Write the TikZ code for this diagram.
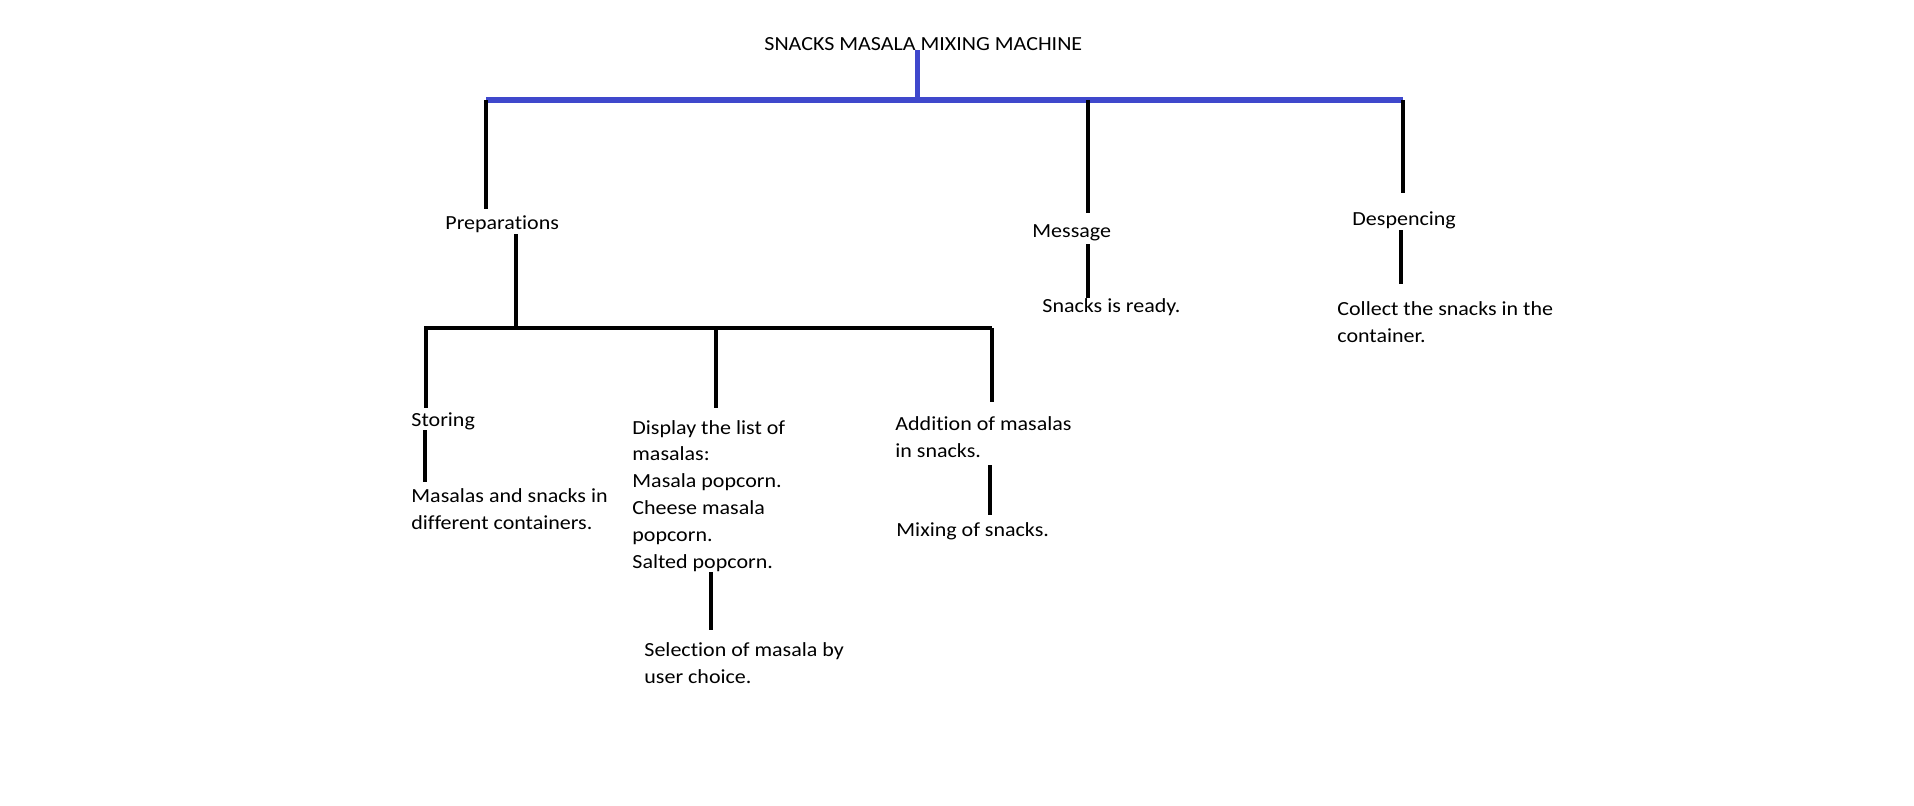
\documentclass[tikz,border=0pt]{standalone}
\usepackage{fontspec}
\setmainfont[FakeStretch=1.1, Ligatures=NoCommon]{Carlito}
\usepackage{tikz}
\usetikzlibrary{positioning}

\definecolor{paintblue}{RGB}{63,72,204}
\newcommand{\txtfont}{\fontsize{10}{13.4}\selectfont}

\begin{document}
\begin{tikzpicture}[
    x=0.5pt, y=-0.5pt,
    % Styles (multi-line texts sit on the baseline of their last line)
    txt/.style={anchor=base west, inner sep=0pt, font=\txtfont, align=left},
    wire/.style={draw=black, line width=2.2pt},
    bluewire/.style={draw=paintblue, line width=2.6pt}
]
\useasboundingbox (0,0) rectangle (1914,805);

% === TITLE ===
\node (title) [txt] at (764,50) {SNACKS MASALA MIXING MACHINE};

% === LEVEL 1 ===
\node (prep) [txt] at (445,229) {Preparations};
\node (msg) [txt] at (1032,237) {Message};
\node (ready) [txt] at (1042,312) {Snacks is ready.};
\node (desp) [txt] at (1352,225) {Despencing};
\node (collect) [txt] at (1337,342) {Collect the snacks in the\\container.};

% === LEVEL 2 ===
\node (store) [txt] at (411,426) {Storing};
\node (containers) [txt] at (411,529) {Masalas and snacks in\\different containers.};
\node (display) [txt] at (632,568) {Display the list of\\masalas:\\Masala popcorn.\\Cheese masala\\popcorn.\\Salted popcorn.};
\node (select) [txt] at (644,683) {Selection of masala by\\user choice.};
\node (add) [txt] at (895,457) {Addition of masalas\\in snacks.};
\node (mix) [txt] at (896,536) {Mixing of snacks.};

% === LINE ENDS ===
\coordinate (hub) at (917.5,100);
\coordinate (topL) at (486,100);
\coordinate (topM) at (1088,100);
\coordinate (topR) at (1403,100);
\coordinate (prepIn) at (486,209);
\coordinate (msgIn) at (1088,213);
\coordinate (despIn) at (1403,193);
\coordinate (prepOut) at (516,234);
\coordinate (msgOut) at (1088,244);
\coordinate (readyIn) at (1088,298);
\coordinate (despOut) at (1401,230);
\coordinate (collectIn) at (1401,284);
\coordinate (lowL) at (424,328);
\coordinate (lowP) at (516,328);
\coordinate (lowM) at (716,328);
\coordinate (lowR) at (992,328);
\coordinate (storeIn) at (426,408);
\coordinate (displayIn) at (716,408);
\coordinate (addIn) at (992,402);
\coordinate (storeOut) at (425,430);
\coordinate (containersIn) at (425,482);
\coordinate (displayOut) at (711,572);
\coordinate (selectIn) at (711,630);
\coordinate (addOut) at (990,465);
\coordinate (mixIn) at (990,515);

% === BLUE TREE ===
\draw [bluewire, line width=2.2pt] (title.base -| hub) -- (hub);
\draw [bluewire] (topL) -- (topR);

% Level 1 stems
\draw [wire] (topL) -- (prepIn);
\draw [wire] (topM) -- (msgIn);
\draw [wire] (topR) -- (despIn);
\draw [wire] (msgOut) -- (readyIn);
\draw [wire] (despOut) -- (collectIn);

% Preparations branch
\draw [wire] (prepOut) -- (lowP);
\draw [wire] (lowL) -- (lowR);
\draw [wire] (lowL -| storeIn) -- (storeIn);
\draw [wire] (lowM) -- (displayIn);
\draw [wire] (lowR) -- (addIn);
\draw [wire] (storeOut) -- (containersIn);
\draw [wire] (displayOut) -- (selectIn);
\draw [wire] (addOut) -- (mixIn);

\end{tikzpicture}
\end{document}
